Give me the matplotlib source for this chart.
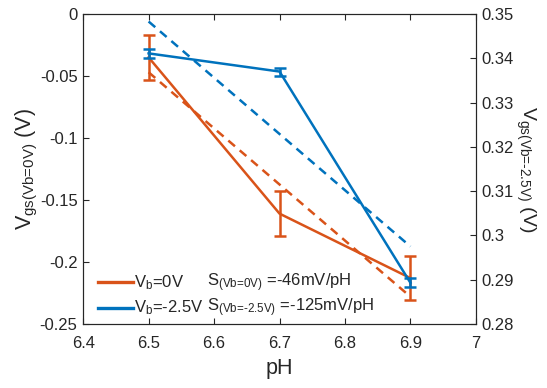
import numpy as np
import matplotlib.pyplot as plt

plt.rcParams['font.family'] = ['Liberation Sans', 'DejaVu Sans']
plt.rcParams['mathtext.fontset'] = 'custom'
plt.rcParams['mathtext.rm'] = 'Liberation Sans'
plt.rcParams['mathtext.it'] = 'Liberation Sans'

# DATA
ph = [6.5, 6.7, 6.9]
vgs_0v = [-0.035, -0.161, -0.213]
err_0v = [0.018, 0.018, 0.018]
fit_0v = [-0.047, -0.228]

vgs_25v = [0.3411, 0.3370, 0.2893]
err_25v = [0.001, 0.0009, 0.001]
fit_25v = [0.3483, 0.2975]
fit_ph = [6.5, 6.9]

orange = '#D95319'
blue = '#0072BD'
txt = '#262626'

fig = plt.figure(figsize=(5.47, 3.88), dpi=100)
ax = fig.add_axes([0.152, 0.165, 0.718, 0.799])
ax2 = ax.twinx()

ax.errorbar(ph, vgs_0v, yerr=err_0v, color=orange, lw=1.8, capsize=4, capthick=1.8)
ax.plot(fit_ph, fit_0v, color=orange, lw=1.8, ls=(0, (3.5, 2.5)))
ax2.errorbar(ph, vgs_25v, yerr=err_25v, color=blue, lw=1.8, capsize=4, capthick=1.8)
ax2.plot(fit_ph, fit_25v, color=blue, lw=1.8, ls=(0, (3.5, 2.5)))

ax.set_xlim(6.4, 7)
ax.set_ylim(-0.25, 0)
ax2.set_ylim(0.28, 0.35)
ax.set_xticks(np.arange(6.4, 7.01, 0.1))
ax.set_xticklabels(['6.4', '6.5', '6.6', '6.7', '6.8', '6.9', '7'])
ax.set_yticks([-0.25, -0.2, -0.15, -0.1, -0.05, 0])
ax.set_yticklabels(['-0.25', '-0.2', '-0.15', '-0.1', '-0.05', '0'])
ax2.set_yticks([0.28, 0.29, 0.3, 0.31, 0.32, 0.33, 0.34, 0.35])
ax2.set_yticklabels(['0.28', '0.29', '0.3', '0.31', '0.32', '0.33', '0.34', '0.35'])

for a in (ax, ax2):
    for s in a.spines.values():
        s.set_color(txt)
        s.set_linewidth(0.8)
ax.tick_params(axis='x', direction='in', length=4, labelsize=12, colors=txt, top=True, width=0.8, pad=9)
ax.tick_params(axis='y', direction='in', length=4, labelsize=12, colors=txt, width=0.8, pad=4)
ax2.tick_params(direction='in', length=4, labelsize=12, colors=txt, width=0.8, pad=4)

ax.set_xlabel('pH', fontsize=15.5, color=txt, labelpad=5)
ax.set_ylabel(r'V$_{\text{gs(Vb=0V)}}$ (V)', fontsize=15.5, color=txt, labelpad=0)
ax2.set_ylabel(r'V$_{\text{gs(Vb=-2.5V)}}$ (V)', fontsize=14, color=txt,
               rotation=270, labelpad=17)

# legend-like annotations
ax.plot([6.4224, 6.476], [-0.2165, -0.2165], color=orange, lw=2.4)
ax.plot([6.4224, 6.476], [-0.237, -0.237], color=blue, lw=2.4)
ax.text(6.478, -0.2165, r'V$_{\text{b}}$=0V', fontsize=12, va='center', color=txt)
ax.text(6.478, -0.237, r'V$_{\text{b}}$=-2.5V', fontsize=12, va='center', color=txt)
ax.text(6.589, -0.2165, r'S$_{\text{(Vb=0V)}}$ =-46mV/pH', fontsize=12, va='center', color=txt)
ax.text(6.589, -0.237, r'S$_{\text{(Vb=-2.5V)}}$ =-125mV/pH', fontsize=12, va='center', color=txt)

fig.savefig('out.png', dpi=100)
